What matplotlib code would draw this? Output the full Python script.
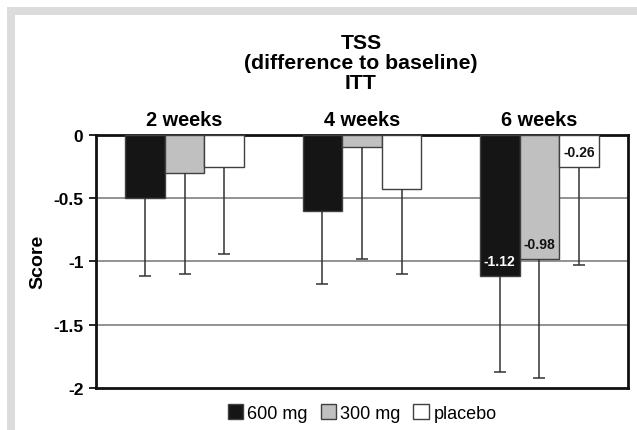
import matplotlib
matplotlib.use("Agg")
import matplotlib.pyplot as plt
from matplotlib.patches import Rectangle
import numpy as np

plt.rcParams['font.family'] = ['Liberation Sans', 'DejaVu Sans']

groups = ["2 weeks", "4 weeks", "6 weeks"]
series = ["600 mg", "300 mg", "placebo"]
means = {
    "600 mg": [-0.50, -0.60, -1.12],
    "300 mg": [-0.30, -0.10, -0.98],
    "placebo": [-0.26, -0.43, -0.26],
}
err_low = {
    "600 mg": [-1.12, -1.18, -1.87],
    "300 mg": [-1.10, -0.98, -1.92],
    "placebo": [-0.94, -1.10, -1.03],
}
labelled_group = 2
colors = {"600 mg": "#151515", "300 mg": "#c0c0c0", "placebo": "#ffffff"}
label_colors = {"600 mg": "white", "300 mg": "#111111", "placebo": "#111111"}

fig = plt.figure(figsize=(6.37, 4.31), dpi=100)
W, H = 637, 431
# grey frame band (top and left)
fig.patches.append(Rectangle((7 / W, 0), 8 / W, 1 - 8 / H, transform=fig.transFigure,
                             facecolor="#dcdcdc", edgecolor="none", zorder=0))
fig.patches.append(Rectangle((7 / W, 1 - 16 / H), 1, 8 / H, transform=fig.transFigure,
                             facecolor="#dcdcdc", edgecolor="none", zorder=0))

ax = fig.add_axes([96 / W, 1 - 389 / H, (628 - 96) / W, (389 - 135.5) / H])

x = np.arange(len(groups)) + 0.5
bw = 0.223
for i, s in enumerate(series):
    xs = x + (i - 1) * bw
    ax.bar(xs, means[s], width=bw, color=colors[s], edgecolor="#404040",
           linewidth=1.0, zorder=3, label=s)
    yerr_low = np.array(means[s]) - np.array(err_low[s])
    eb = ax.errorbar(xs, means[s], yerr=[yerr_low, np.zeros(len(xs))], fmt="none",
                     ecolor="#333333", elinewidth=1.1, capsize=4, capthick=1.1, zorder=4)
    caps = eb[1]
    if len(caps) > 1:
        caps[1].set_visible(False)
    v = means[s][labelled_group]
    ax.text(xs[labelled_group], v + 0.12, f"{v:.2f}", ha="center", va="center",
            color=label_colors[s], fontsize=10, fontweight="bold", zorder=5)

ax.set_xlim(0, 3)
ax.set_ylim(-2, 0)
ax.set_yticks([0, -0.5, -1, -1.5, -2])
ax.set_yticklabels(["0", "-0.5", "-1", "-1.5", "-2"], fontsize=12.5, fontweight="bold")
ax.tick_params(axis="y", direction="out", length=5, width=1.2, pad=4)
for yv in [-0.5, -1, -1.5]:
    ax.axhline(yv, color="#808080", linewidth=1.2, zorder=1)

ax.xaxis.tick_top()
ax.set_xticks(x)
ax.set_xticklabels(groups, fontsize=14.3, fontweight="bold")
ax.tick_params(axis="x", length=0, pad=4)

for sp in ax.spines.values():
    sp.set_linewidth(2)
    sp.set_color("#111111")

ax.set_ylabel("Score", fontsize=14, fontweight="bold")
ax.yaxis.set_label_coords(-0.094, 0.5)

fig.text(361 / W, 1 - 63.5 / H, "TSS\n(difference to baseline)\nITT", ha="center",
         va="center", fontsize=15.3, fontweight="bold", linespacing=1.08)

leg = ax.legend(loc="upper center", bbox_to_anchor=(0.5, 0.0), ncol=3, frameon=False,
                fontsize=13, handlelength=0.85, handleheight=0.85, handletextpad=0.25,
                columnspacing=0.7)

fig.savefig("out.png", dpi=100, facecolor="white")
